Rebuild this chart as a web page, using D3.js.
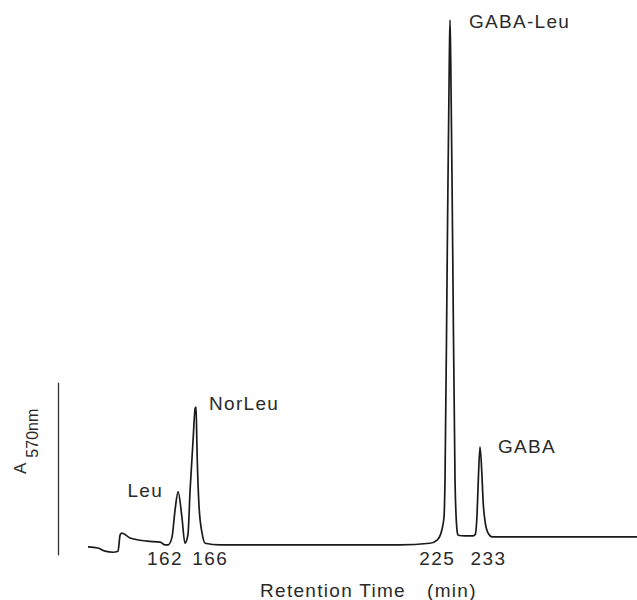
<!DOCTYPE html>
<html><head><meta charset="utf-8">
<script src="https://cdn.jsdelivr.net/npm/d3@7"></script>
<style>
body{margin:0;background:#fff}
text{font-family:"Liberation Sans",Arial,sans-serif;fill:#2a2a2a}
</style>
</head><body>
<svg id="c" width="637" height="600"></svg>
<script>
// Retention time (min) and absorbance at 570 nm (relative units)
const time = [141.0,143.3,145.0,146.8,148.0,148.5,148.9,150.8,154.8,157.8,159.0,159.7,160.6,161.3,162.0,162.9,163.6,164.3,164.8,165.5,166.0,166.2,166.4,166.9,167.6,168.3,171.8,190.4,213.7,220.7,222.4,223.5,224.0,224.24,224.77,225.24,225.4,225.57,226.03,226.57,227.03,227.27,228.9,230.8,231.3,231.7,232.0,232.4,232.9,233.1,233.6,234.3,235.2,237.1,248.7,260.0,269.0];
const absorbance = [0.002,0.000,-0.006,-0.008,-0.006,0.025,0.028,0.019,0.013,0.011,0.006,0.006,0.021,0.072,0.106,0.058,0.009,0.025,0.109,0.204,0.264,0.266,0.191,0.077,0.028,0.009,0.006,0.006,0.006,0.009,0.015,0.034,0.058,0.128,0.562,0.921,0.996,0.921,0.562,0.128,0.034,0.024,0.023,0.023,0.026,0.062,0.128,0.191,0.128,0.091,0.049,0.028,0.021,0.021,0.021,0.021,0.021];

const peakNames = ["Leu","NorLeu","GABA-Leu","GABA"];
const peakTimes = [162.0,166.2,225.4,232.4];
const peakHeights = [0.106,0.266,0.996,0.191];

const tickValues = [162,166,225,233];
const tickLabels = ["162","166","225","233"];

const xTitle = "Retention Time";
const xUnit = "(min)";
const yTitle = "A";
const ySub = "570nm";

// layout (styling only)
const peakLabelStyle = [
  {anchor:"end",dx:-15,dy:5},
  {anchor:"start",dx:13,dy:3},
  {anchor:"start",dx:19,dy:8},
  {anchor:"start",dx:18,dy:6}
];
const tickOffsets = [-13,15,-11,6];

const svg = d3.select("#c");
const x = d3.scaleLinear().domain([141,269]).range([88,637]);
const y = d3.scaleLinear().domain([0,1]).range([548,18]);

// y axis: plain vertical line, no ticks
const yAxisScale = d3.scaleLinear().domain([-0.013,0.313]).range([y(-0.013),y(0.313)]);
svg.append("g").attr("transform","translate(58,0)")
  .call(d3.axisLeft(yAxisScale).tickValues([]).tickSizeOuter(0))
  .call(g=>g.select(".domain").attr("stroke","#333").attr("stroke-width",1.3));

// trace
const pts = time.map((t,i)=>[t,absorbance[i]]);
const line = d3.line().x(d=>x(d[0])).y(d=>y(d[1])).curve(d3.curveMonotoneX);
svg.append("path").datum(pts).attr("d",line)
  .attr("fill","none").attr("stroke","#1a1a1a").attr("stroke-width",1.7).attr("stroke-linejoin","round");

// retention time labels
const fs = 19;
svg.append("g").selectAll("text").data(tickValues).join("text")
  .attr("x",(d,i)=>x(d)+tickOffsets[i]).attr("y",565)
  .attr("text-anchor","middle").style("font-size",fs+"px").style("letter-spacing","1.5px")
  .text((d,i)=>tickLabels[i]);

// peak labels
svg.append("g").selectAll("text").data(peakNames).join("text")
  .attr("x",(d,i)=>x(peakTimes[i])+peakLabelStyle[i].dx)
  .attr("y",(d,i)=>y(peakHeights[i])+peakLabelStyle[i].dy)
  .attr("text-anchor",(d,i)=>peakLabelStyle[i].anchor)
  .style("font-size",fs+"px").style("letter-spacing","1.3px")
  .text(d=>d);

// x title
const xt = svg.append("text").attr("x",260).attr("y",597)
  .style("font-size",fs+"px").style("letter-spacing","1.3px");
xt.append("tspan").text(xTitle);
xt.append("tspan").attr("x",427).text(xUnit);

// y title
const yt = svg.append("text").attr("transform","translate(26,474) rotate(-90)")
  .style("font-size","17px");
yt.append("tspan").text(yTitle);
yt.append("tspan").attr("dx",5).attr("dy",12).style("font-size","16px").text(ySub);
</script>
</body></html>
